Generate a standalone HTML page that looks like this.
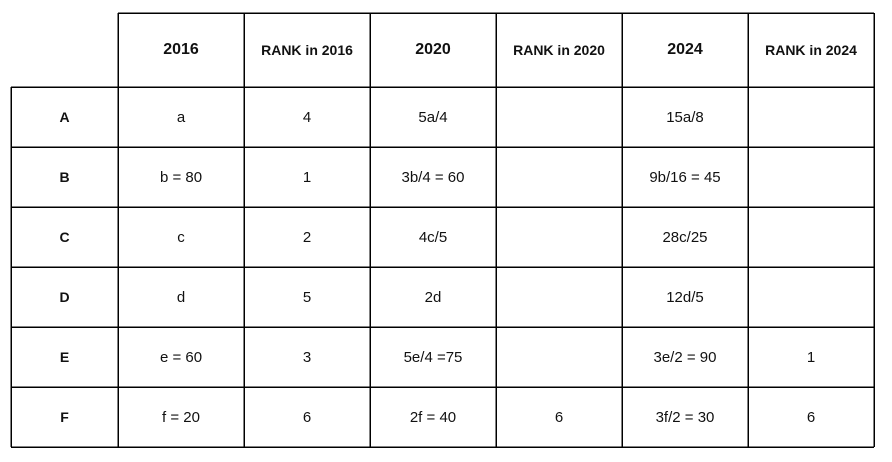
<!DOCTYPE html>
<html><head><style>
body{margin:0;width:892px;height:462px;background:#fff;position:relative;font-family:"Liberation Sans",sans-serif;color:#111}
.c{position:absolute;display:flex;align-items:center;justify-content:center;font-size:15px}
.h{font-weight:bold;font-size:16px}
.r{font-weight:bold;font-size:14px}
.l{font-weight:bold;font-size:14px}
</style></head><body>
<svg width="892" height="462" style="position:absolute;left:0;top:0" stroke="#000" stroke-width="1.5" shape-rendering="crispEdges">
<line x1="118" y1="13" x2="874" y2="13"/>
<line x1="11" y1="87" x2="874" y2="87"/>
<line x1="11" y1="147" x2="874" y2="147"/>
<line x1="11" y1="207" x2="874" y2="207"/>
<line x1="11" y1="267" x2="874" y2="267"/>
<line x1="11" y1="327" x2="874" y2="327"/>
<line x1="11" y1="387" x2="874" y2="387"/>
<line x1="11" y1="447" x2="874" y2="447"/>
<line x1="11" y1="87" x2="11" y2="447"/>
<line x1="118" y1="13" x2="118" y2="447"/>
<line x1="244" y1="13" x2="244" y2="447"/>
<line x1="370" y1="13" x2="370" y2="447"/>
<line x1="496" y1="13" x2="496" y2="447"/>
<line x1="622" y1="13" x2="622" y2="447"/>
<line x1="748" y1="13" x2="748" y2="447"/>
<line x1="874" y1="13" x2="874" y2="447"/>
</svg>
<div id="t"></div>
<script>
const xs=[11,118,244,370,496,622,748,874];
const ys=[13,87,147,207,267,327,387,447];
const rows=[
["","2016","RANK in 2016","2020","RANK in 2020","2024","RANK in 2024"],
["A","a","4","5a/4","","15a/8",""],
["B","b = 80","1","3b/4 = 60","","9b/16 = 45",""],
["C","c","2","4c/5","","28c/25",""],
["D","d","5","2d","","12d/5",""],
["E","e = 60","3","5e/4 =75","","3e/2 = 90","1"],
["F","f = 20","6","2f = 40","6","3f/2 = 30","6"]];
let h="";
rows.forEach((r,i)=>r.forEach((v,j)=>{
 let cls="c";
 if(i==0) cls+=(j%2==1?" h":" r"); else if(j==0) cls+=" l";
 h+=`<div class="${cls}" style="left:${xs[j]}px;top:${ys[i]}px;width:${xs[j+1]-xs[j]}px;height:${ys[i+1]-ys[i]}px">${v}</div>`;
}));
document.getElementById("t").innerHTML=h;
</script>
</body></html>
